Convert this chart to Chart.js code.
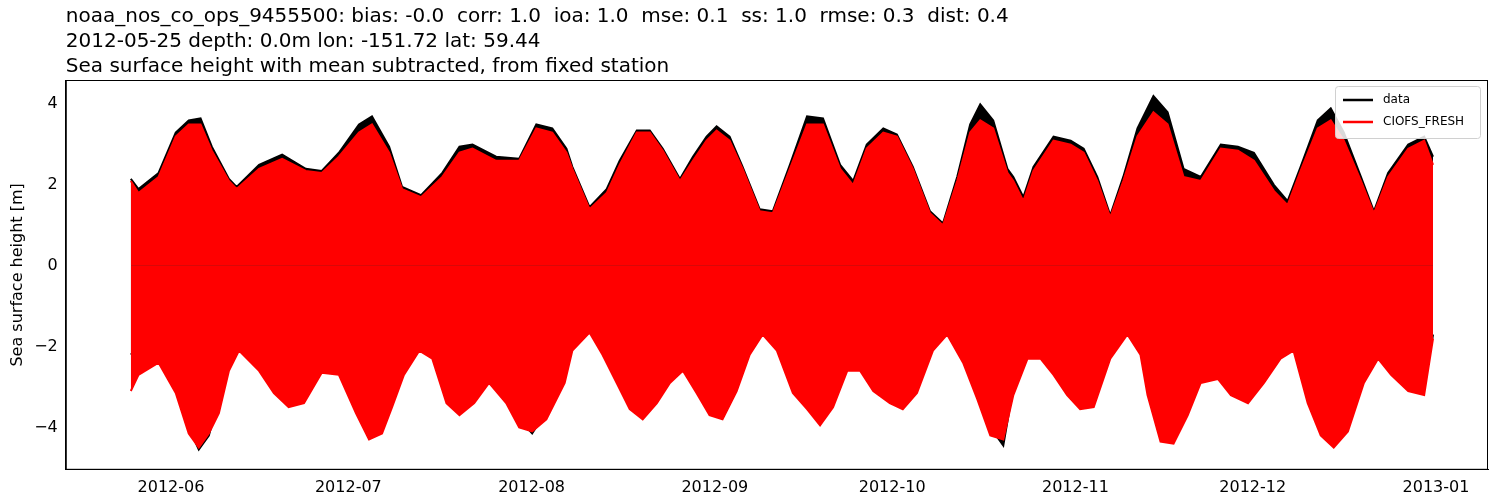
<!DOCTYPE html>
<html>
<head>
<meta charset="utf-8">
<script src="https://cdn.jsdelivr.net/npm/chart.js@4"></script>
<style>
  body { margin: 0; background: #fff; }
  #wrap { width: 1500px; height: 500px; }
</style>
</head>
<body>
<div id="wrap"><canvas id="sshChart"></canvas></div>
<script>
// days counted from 2012-05-25
const titleLines = [
  "noaa_nos_co_ops_9455500: bias: -0.0  corr: 1.0  ioa: 1.0  mse: 0.1  ss: 1.0  rmse: 0.3  dist: 0.4",
  "2012-05-25 depth: 0.0m lon: -151.72 lat: 59.44",
  "Sea surface height with mean subtracted, from fixed station"
];
const seriesNames = ["data", "CIOFS_FRESH"];
const seriesColors = ["#000000", "#ff0000"];
const monthTicks = [7, 37, 68, 99, 129, 160, 190, 221];
const monthLabels = ["2012-06", "2012-07", "2012-08", "2012-09", "2012-10", "2012-11", "2012-12", "2013-01"];

// envelope of high waters
const highDays = [0.2, 1.5, 4.9, 7.8, 10, 12, 13.9, 16.8, 18.1, 21.9, 25.8, 29.8, 32.5, 35.4, 38.8, 41, 43.9, 46.1, 49.3, 52.9,
  55.8, 58, 62, 65.9, 68.8, 71.5, 73.9, 74.9, 77.8, 80.7, 82.9, 85.8, 88, 90.2, 93.1, 95.3, 97.6, 99.3, 101.5, 103.7,
  106.6, 108.8, 111.7, 114.6, 117.3, 120.2, 122.4, 124.7, 127.5, 129.8, 132.5, 135.4, 137.6, 140, 142.2, 143.9, 146.1, 148.5, 149.5, 151.2,
  152.9, 156.3, 159.2, 161.4, 163.7, 165.9, 168.1, 170.5, 173.2, 175.6, 178.3, 181.2, 184.6, 187.5, 190.2, 193.6, 195.9, 198.1, 201, 203.2,
  205.4, 208.3, 210.5, 212.9, 216.3, 219, 220.5];
const modelHigh = [2.1, 1.8, 2.2, 3.2, 3.5, 3.5, 2.85, 2.1, 1.9, 2.4, 2.65, 2.35, 2.3, 2.7, 3.3, 3.5, 2.8, 1.9, 1.7, 2.2,
  2.8, 2.9, 2.6, 2.6, 3.4, 3.3, 2.8, 2.4, 1.4, 1.8, 2.5, 3.3, 3.3, 2.85, 2.1, 2.6, 3.1, 3.35, 3.1, 2.4,
  1.35, 1.3, 2.4, 3.5, 3.5, 2.4, 2.0, 2.9, 3.3, 3.2, 2.4, 1.3, 1.0, 2.1, 3.3, 3.6, 3.4, 2.3, 2.1, 1.6,
  2.35, 3.1, 3.0, 2.8, 2.1, 1.2, 2.1, 3.2, 3.8, 3.5, 2.2, 2.1, 2.9, 2.85, 2.6, 1.85, 1.5, 2.35, 3.4, 3.6,
  3.1, 2.1, 1.3, 2.2, 2.9, 3.1, 2.5];
const dataHigh = [2.15, 1.9, 2.3, 3.3, 3.6, 3.65, 2.95, 2.15, 1.95, 2.5, 2.75, 2.4, 2.35, 2.8, 3.5, 3.7, 2.95, 1.95, 1.75, 2.3,
  2.95, 3.0, 2.7, 2.65, 3.5, 3.4, 2.9, 2.45, 1.45, 1.9, 2.6, 3.35, 3.35, 2.9, 2.15, 2.7, 3.2, 3.45, 3.2, 2.45,
  1.4, 1.35, 2.5, 3.7, 3.65, 2.5, 2.1, 3.0, 3.4, 3.25, 2.45, 1.35, 1.05, 2.2, 3.5, 4.0, 3.6, 2.4, 2.2, 1.7,
  2.45, 3.2, 3.1, 2.9, 2.2, 1.25, 2.2, 3.4, 4.2, 3.8, 2.4, 2.2, 3.0, 2.95, 2.8, 2.0, 1.6, 2.45, 3.6, 3.9,
  3.3, 2.2, 1.35, 2.3, 3.0, 3.2, 2.7];

// envelope of low waters
const lowDays = [0.2, 1.5, 4.9, 7.8, 10, 11.7, 13.4, 15.1, 16.8, 18.5, 21.9, 24.4, 26.9, 29.5, 32.5, 35.4, 38.3, 40.5, 42.7, 44.4,
  46.4, 49, 51.2, 53.6, 55.8, 58.3, 60.8, 63.7, 65.9, 68.1, 70.5, 73.6, 74.9, 77.8, 80, 82.4, 84.6, 86.8, 89.2, 91.4,
  93.6, 95.9, 98.1, 100.3, 102.7, 104.9, 107.1, 109.5, 112.2, 114.6, 116.8, 119, 121.4, 123.6, 125.8, 128.6, 130.8, 133.2, 135.9, 138.3,
  141, 143.4, 145.6, 147.8, 149.5, 151.9, 154.1, 156.3, 158.6, 160.8, 163.1, 165.9, 168.8, 171, 172.2, 174.4, 176.6, 179, 181.2, 184.1,
  186.3, 189.2, 191.9, 194.7, 196.9, 199.3, 201.5, 203.7, 206.1, 208.8, 211.2, 213.4, 216.3, 219, 220.5];
const modelLow = [-3.1, -2.7, -2.4, -3.15, -4.15, -4.5, -4.15, -3.65, -2.6, -2.1, -2.6, -3.15, -3.5, -3.4, -2.65, -2.7, -3.65, -4.3, -4.15, -3.5,
  -2.7, -2.1, -2.3, -3.4, -3.7, -3.4, -2.9, -3.4, -4.0, -4.1, -3.8, -2.9, -2.1, -1.65, -2.2, -2.9, -3.55, -3.8, -3.4, -2.9,
  -2.6, -3.15, -3.7, -3.8, -3.1, -2.2, -1.7, -2.1, -3.15, -3.55, -3.95, -3.5, -2.6, -2.6, -3.1, -3.4, -3.55, -3.15, -2.1, -1.7,
  -2.4, -3.3, -4.2, -4.3, -3.2, -2.3, -2.3, -2.7, -3.2, -3.55, -3.5, -2.3, -1.7, -2.2, -3.2, -4.35, -4.4, -3.7, -2.9, -2.8,
  -3.2, -3.4, -2.9, -2.3, -2.1, -3.4, -4.2, -4.5, -4.1, -2.9, -2.3, -2.7, -3.1, -3.2, -1.8];
const dataLow = [-2.2, -2.0, -2.2, -2.9, -4.0, -4.55, -4.2, -3.3, -2.2, -1.9, -2.3, -2.8, -3.2, -3.1, -2.4, -2.5, -3.4, -4.2, -4.0, -3.2,
  -2.4, -1.9, -2.1, -3.2, -3.5, -3.2, -2.6, -3.1, -3.8, -4.15, -3.6, -2.6, -1.9, -1.5, -2.0, -2.7, -3.35, -3.6, -3.2, -2.7,
  -2.4, -2.9, -3.5, -3.65, -2.9, -2.0, -1.55, -1.95, -2.9, -3.4, -3.9, -3.3, -2.4, -2.4, -2.9, -3.2, -3.4, -2.95, -1.95, -1.55,
  -2.2, -3.1, -4.0, -4.45, -3.0, -2.1, -2.1, -2.5, -3.0, -3.4, -3.3, -2.1, -1.55, -2.0, -3.0, -4.1, -4.3, -3.5, -2.7, -2.6,
  -3.0, -3.2, -2.7, -2.1, -1.95, -3.2, -4.0, -4.45, -4.0, -2.7, -2.1, -2.5, -2.9, -3.0, -1.7];

function pts(days, vals) {
  return days.map((d, i) => ({ x: d, y: vals[i] }));
}

// a series is drawn as its high and low envelopes, each filled to zero
function envelope(label, color, order, days1, vals1, days2, vals2) {
  const common = { borderColor: color, backgroundColor: color, borderWidth: 2, pointRadius: 0,
    fill: 'origin', tension: 0, order: order };
  return [
    Object.assign({ label: label, data: pts(days1, vals1) }, common),
    Object.assign({ label: label + ' low', data: pts(days2, vals2) }, common)
  ];
}

const headerPlugin = {
  id: 'header',
  afterDraw(chart) {
    const c = chart.ctx;
    const a = chart.chartArea;
    c.save();
    // axes frame
    c.strokeStyle = '#000';
    c.lineWidth = 1;
    c.strokeRect(a.left + 0.5, a.top + 0.5, a.right - a.left - 1, a.bottom - a.top - 1);

    c.fillStyle = '#000';
    c.font = '20px "DejaVu Sans"';
    titleLines.forEach((t, i) => c.fillText(t, a.left, 22 + i * 25));

    // legend, upper right inside the axes
    const w = 145, h = 52, x0 = a.right - w - 8, y0 = a.top + 6;
    c.fillStyle = 'rgba(255,255,255,0.85)';
    c.strokeStyle = '#d0d0d0';
    c.beginPath();
    c.roundRect(x0 + 0.5, y0 + 0.5, w, h, 3);
    c.fill();
    c.stroke();
    c.font = '12px "DejaVu Sans"';
    c.textBaseline = 'middle';
    seriesNames.forEach((n, i) => {
      const y = y0 + 14 + i * 22;
      c.strokeStyle = seriesColors[i];
      c.lineWidth = 2.5;
      c.beginPath();
      c.moveTo(x0 + 8, y);
      c.lineTo(x0 + 38, y);
      c.stroke();
      c.fillStyle = '#000';
      c.fillText(n, x0 + 48, y);
    });
    c.restore();
  }
};

const ctx = document.getElementById('sshChart').getContext('2d');
const sshChart = new Chart(ctx, {
  type: 'line',
  data: {
    datasets: [
      ...envelope(seriesNames[0], seriesColors[0], 1, highDays, dataHigh, lowDays, dataLow),
      ...envelope(seriesNames[1], seriesColors[1], 0, highDays, modelHigh, lowDays, modelLow)
    ]
  },
  options: {
    responsive: true,
    maintainAspectRatio: false,
    animation: false,
    layout: { padding: { top: 80, right: 12, left: 4, bottom: 0 } },
    scales: {
      x: {
        type: 'linear',
        min: -10.8,
        max: 229.8,
        grid: { display: false, drawTicks: true, tickLength: 5, tickColor: '#000' },
        border: { color: '#000', width: 1 },
        afterBuildTicks(axis) { axis.ticks = monthTicks.map(v => ({ value: v })); },
        ticks: {
          color: '#000', font: { size: 16, family: 'DejaVu Sans' }, maxRotation: 0, autoSkip: false,
          callback: (v) => monthLabels[monthTicks.indexOf(v)]
        }
      },
      y: {
        min: -5.05,
        max: 4.6,
        grid: { display: false, drawTicks: true, tickLength: 5, tickColor: '#000' },
        border: { color: '#000', width: 1 },
        afterBuildTicks(axis) { axis.ticks = [-4, -2, 0, 2, 4].map(v => ({ value: v })); },
        ticks: {
          color: '#000', font: { size: 16, family: 'DejaVu Sans' },
          callback: (v) => (v < 0 ? '\u2212' + Math.abs(v) : String(v))
        },
        title: { display: true, text: 'Sea surface height [m]', color: '#000', font: { size: 16, family: 'DejaVu Sans' } }
      }
    },
    plugins: {
      title: { display: false },
      tooltip: { enabled: false },
      legend: { display: false }
    }
  },
  plugins: [headerPlugin]
});
</script>
</body>
</html>
